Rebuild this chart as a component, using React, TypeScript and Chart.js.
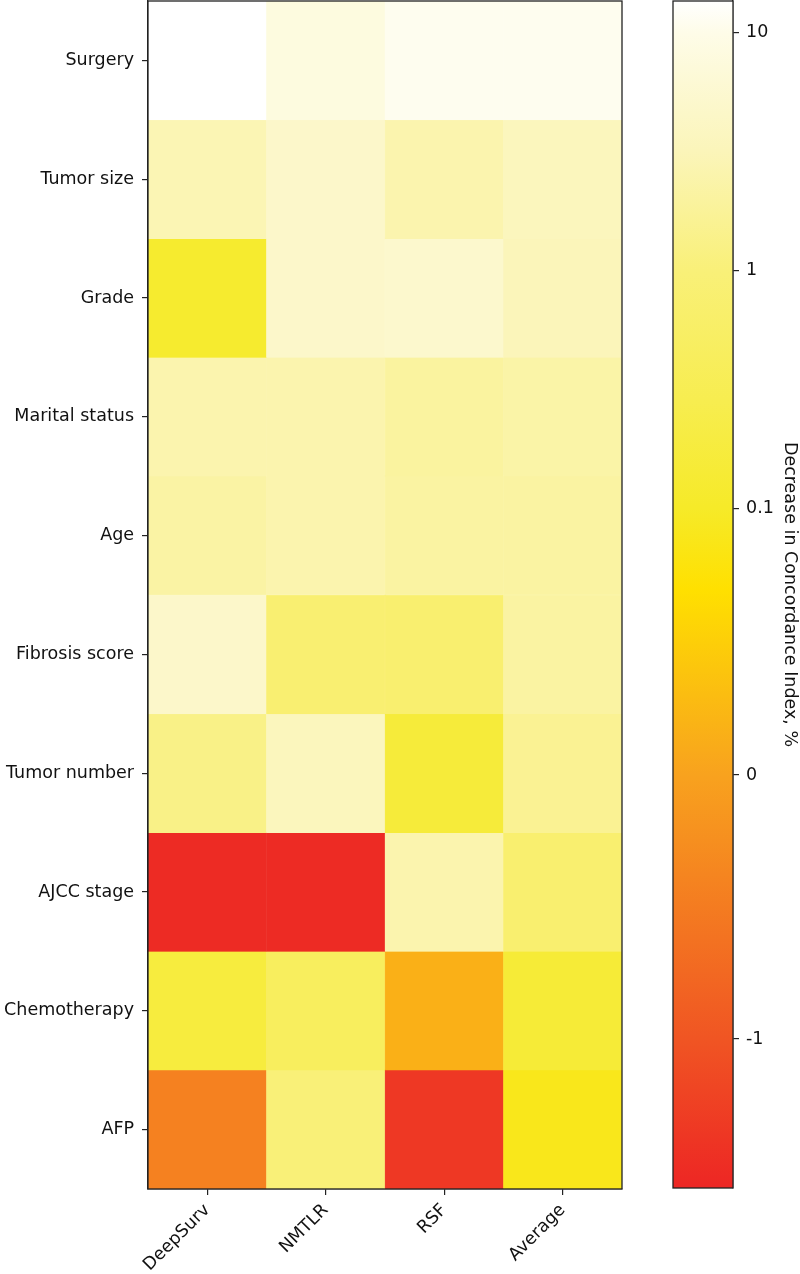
import React, { useEffect, useRef } from 'react';
import { Chart, registerables } from 'chart.js';

Chart.register(...registerables);

// ---- data ----
const features = [
  'Surgery',
  'Tumor size',
  'Grade',
  'Marital status',
  'Age',
  'Fibrosis score',
  'Tumor number',
  'AJCC stage',
  'Chemotherapy',
  'AFP',
];
const models = ['DeepSurv', 'NMTLR', 'RSF', 'Average'];
const deepSurv = [14, 2.9, 0.12, 2.6, 2.2, 4.8, 1.3, -1.5, 0.18, -0.43];
const nmtlr = [8, 4.8, 4.8, 2.6, 2.6, 0.8, 3.5, -1.5, 0.45, 1.0];
const rsf = [11, 2.6, 5.2, 2.0, 2.1, 0.75, 0.16, 2.6, 0.016, -1.35];
const average = [11, 3.5, 3.2, 2.3, 2.1, 2.1, 1.6, 0.75, 0.15, 0.09];
const colorbarTicks = [10, 1, 0.1, 0, -1];
const colorbarTitle = 'Decrease in Concordance Index, %';

const columns = [deepSurv, nmtlr, rsf, average];

// ---- colour scale (piecewise log / linear, expressed in "decade" units) ----
const LIN_POS = 1.118; // width of [0, 0.1] in decades
const LIN_NEG = 1.109; // width of [-1, 0] in decades
function toU(v: number): number {
  if (v >= 0.1) return Math.log10(v);
  if (v >= 0) return -1 - ((0.1 - v) / 0.1) * LIN_POS;
  return -1 - LIN_POS + v * LIN_NEG;
}
const U_MIN = -3.853;
const U_MAX = 1.134;

const cmapStops: [number, number[]][] = [
  [-3.853, [237, 38, 36]],
  [-3.227, [240, 85, 35]],
  [-2.118, [248, 162, 30]],
  [-1.34, [255, 224, 0]],
  [-1.0, [246, 234, 40]],
  [-0.542, [247, 237, 80]],
  [0.0, [249, 240, 120]],
  [0.508, [251, 245, 186]],
  [1.0, [254, 252, 232]],
  [1.134, [255, 255, 255]],
];

function colorAtU(u: number): string {
  const s = cmapStops;
  if (u <= s[0][0]) return `rgb(${s[0][1].join(',')})`;
  if (u >= s[s.length - 1][0]) return `rgb(${s[s.length - 1][1].join(',')})`;
  for (let i = 0; i < s.length - 1; i++) {
    const [u0, c0] = s[i];
    const [u1, c1] = s[i + 1];
    if (u >= u0 && u <= u1) {
      const f = (u - u0) / (u1 - u0);
      const c = c0.map((x, k) => Math.round(x + (c1[k] - x) * f));
      return `rgb(${c.join(',')})`;
    }
  }
  return '#fff';
}
const colorOf = (v: number) => colorAtU(toU(v));

const FONT = { family: 'DejaVu Sans', size: 17.5 };
const TEXT = '#111';
const AXIS = '#222';

const framePlugin = {
  id: 'frame',
  afterDraw(chart: any) {
    const { ctx, chartArea } = chart;
    ctx.save();
    ctx.strokeStyle = AXIS;
    ctx.lineWidth = 1.3;
    ctx.strokeRect(chartArea.left, chartArea.top, chartArea.right - chartArea.left, chartArea.bottom - chartArea.top);
    ctx.restore();
  },
};

const noVPad = (s: any) => {
  s.paddingTop = 0;
  s.paddingBottom = 0;
};

export default function App() {
  const mainRef = useRef<HTMLCanvasElement>(null);
  const cbRef = useRef<HTMLCanvasElement>(null);

  useEffect(() => {
    const datasets = features.map((f, i) => ({
      label: f,
      data: models.map(() => [i, i + 1]),
      backgroundColor: models.map((_, j) => colorOf(columns[j][i])),
      borderColor: models.map((_, j) => colorOf(columns[j][i])),
      borderWidth: 0.5,
      borderSkipped: false,
      grouped: false,
      barPercentage: 1,
      categoryPercentage: 1,
    }));

    const main = new Chart(mainRef.current!, {
      type: 'bar',
      data: { labels: models, datasets: datasets as any },
      options: {
        responsive: false,
        animation: false,
        devicePixelRatio: 1,
        layout: { padding: { left: 0, top: 1, right: 178, bottom: 0 } },
        plugins: { legend: { display: false }, tooltip: { enabled: false } },
        scales: {
          x: {
            type: 'category',
            offset: true,
            grid: { offset: false, drawOnChartArea: false, drawTicks: true, tickLength: 6, color: AXIS, lineWidth: 1.2 },
            border: { display: true, color: AXIS, width: 1.3 },
            ticks: { color: TEXT, font: FONT, minRotation: 45, maxRotation: 45, padding: 5, autoSkip: false },
            afterFit: (s: any) => { s.height = 85; },
          },
          y: {
            type: 'linear',
            min: 0,
            max: features.length,
            reverse: true,
            afterBuildTicks: (s: any) => { s.ticks = features.map((_, i) => ({ value: i + 0.5 })); },
            grid: { drawOnChartArea: false, drawTicks: true, tickLength: 6, color: AXIS, lineWidth: 1.2 },
            border: { display: true, color: AXIS, width: 1.3 },
            ticks: { color: TEXT, font: FONT, padding: 8, callback: (_v: any, i: number) => features[i] },
            afterFit: (s: any) => { s.width = 148; noVPad(s); },
          },
        },
      },
      plugins: [framePlugin],
    });

    const cb = new Chart(cbRef.current!, {
      type: 'bar',
      data: {
        labels: ['scale'],
        datasets: [
          {
            data: [[U_MIN, U_MAX]] as any,
            backgroundColor: (c: any) => {
              const { chart } = c;
              const area = chart.chartArea;
              if (!area) return '#fff';
              const g = chart.ctx.createLinearGradient(0, area.bottom, 0, area.top);
              cmapStops.forEach(([u, col]) => {
                g.addColorStop((u - U_MIN) / (U_MAX - U_MIN), `rgb(${col.join(',')})`);
              });
              return g;
            },
            borderWidth: 0,
            barPercentage: 1,
            categoryPercentage: 1,
          },
        ],
      },
      options: {
        responsive: false,
        animation: false,
        devicePixelRatio: 1,
        layout: { padding: { left: 673, top: 1, right: 0, bottom: 86 } },
        plugins: { legend: { display: false }, tooltip: { enabled: false } },
        scales: {
          x: { display: false },
          y: {
            type: 'linear',
            position: 'right',
            min: U_MIN,
            max: U_MAX,
            afterBuildTicks: (s: any) => { s.ticks = colorbarTicks.map((v) => ({ value: toU(v) })); },
            grid: { drawOnChartArea: false, drawTicks: true, tickLength: 6, color: AXIS, lineWidth: 1.2 },
            border: { display: true, color: AXIS, width: 1.3 },
            ticks: { color: TEXT, font: FONT, padding: 7, callback: (_v: any, i: number) => String(colorbarTicks[i]) },
            title: { display: true, text: colorbarTitle, color: TEXT, font: FONT, padding: 0 },
            afterFit: (s: any) => { s.width = 67; noVPad(s); },
          },
        },
      },
      plugins: [framePlugin],
    });

    return () => {
      main.destroy();
      cb.destroy();
    };
  }, []);

  return (
    <div style={{ position: 'absolute', left: 0, top: 0, width: 800, height: 1274, background: '#fff' }}>
      <canvas ref={mainRef} width={800} height={1274} style={{ position: 'absolute', left: 0, top: 0, display: 'block' }} />
      <canvas ref={cbRef} width={800} height={1274} style={{ position: 'absolute', left: 0, top: 0, display: 'block' }} />
    </div>
  );
}
